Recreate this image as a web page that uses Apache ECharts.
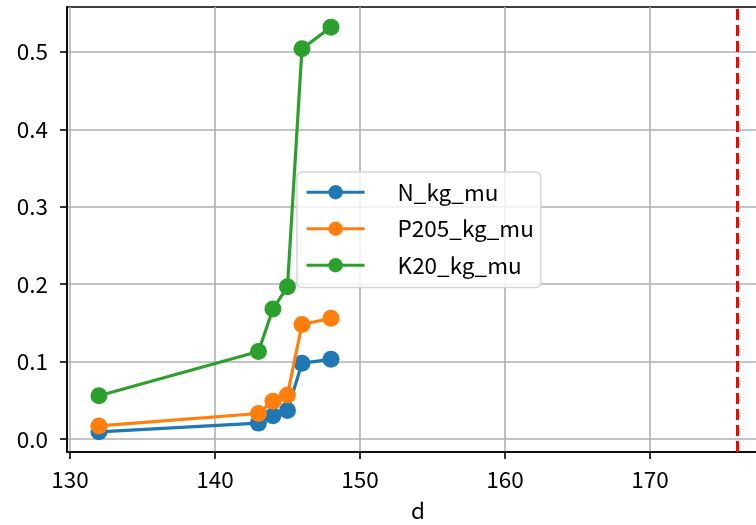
<!DOCTYPE html>
<html>
<head>
<meta charset="utf-8">
<script src="https://cdn.jsdelivr.net/npm/echarts@6/dist/echarts.min.js"></script>
<style>html,body{margin:0;padding:0;background:#fff}#c{width:756px;height:525px}</style>
</head>
<body>
<div id="c"></div>
<script>
const days = [132, 143, 144, 145, 146, 148];
const nKg = [0.0094, 0.0206, 0.030, 0.037, 0.098, 0.103];
const p2o5Kg = [0.017, 0.033, 0.049, 0.057, 0.148, 0.156];
const k2oKg = [0.056, 0.113, 0.168, 0.1966, 0.504, 0.532];
const seriesNames = ['N_kg_mu', 'P205_kg_mu', 'K20_kg_mu'];
const seriesColors = ['#1f77b4', '#ff7f0e', '#2ca02c'];
const vlineX = 176;
const xTicks = [130, 140, 150, 160, 170];
const yTicks = [0.0, 0.1, 0.2, 0.3, 0.4, 0.5];
const xName = 'd';

const FONT = '"Noto Sans CJK JP", "DejaVu Sans", sans-serif';
const FS = 22.5;
const values = [nKg, p2o5Kg, k2oKg];

const series = values.map((vals, i) => ({
  name: seriesNames[i],
  type: 'line',
  data: days.map((d, j) => [d, vals[j]]),
  symbol: 'circle',
  symbolSize: 17,
  showSymbol: true,
  color: seriesColors[i],
  lineStyle: { width: 3.2, color: seriesColors[i] },
  itemStyle: { color: seriesColors[i] },
  z: 3 + i,
  emphasis: { disabled: true }
}));
series.push({
  type: 'line',
  data: [],
  silent: true,
  markLine: {
    silent: true,
    symbol: ['none', 'none'],
    label: { show: false },
    lineStyle: { color: '#ff0000', width: 3, type: [11, 5] },
    data: [{ xAxis: vlineX }]
  }
});

const chart = echarts.init(document.getElementById('c'), null, { renderer: 'canvas' });
chart.setOption({
  animation: false,
  backgroundColor: '#ffffff',
  textStyle: { fontFamily: FONT },
  grid: {
    left: 67, top: 7, right: -13, bottom: 73,
    outerBoundsMode: 'none',
    containLabel: false,
    show: true, borderColor: '#000', borderWidth: 1.6, backgroundColor: 'transparent'
  },
  legend: {
    data: seriesNames,
    left: 297, top: 172,
    orient: 'vertical',
    itemWidth: 58, itemHeight: 18, itemGap: 14,
    padding: [9, 7, 11, 8],
    backgroundColor: 'rgba(255,255,255,0.8)',
    borderColor: '#d6d6d6', borderWidth: 1.5, borderRadius: 5,
    lineStyle: { width: 3.2 },
    textStyle: { fontSize: FS, color: '#000', fontFamily: FONT, padding: [0, 0, 0, 28], lineHeight: 21 },
    selectedMode: false
  },
  xAxis: {
    type: 'value',
    min: 129.8, max: 178.2,
    name: xName, nameLocation: 'middle', nameGap: 47,
    nameTextStyle: { fontSize: FS, color: '#000', fontFamily: FONT },
    axisLine: { show: true, onZero: false, lineStyle: { color: '#000', width: 1.6 } },
    axisTick: { show: true, length: 7, inside: false, customValues: xTicks, lineStyle: { color: '#000', width: 1.6 } },
    axisLabel: { customValues: xTicks, fontSize: FS, color: '#000', margin: 16, fontFamily: FONT },
    splitLine: { show: true, lineStyle: { color: '#b0b0b0', width: 1.6 } }
  },
  yAxis: {
    type: 'value',
    min: -0.0167, max: 0.558,
    axisLine: { show: true, onZero: false, lineStyle: { color: '#000', width: 1.6 } },
    axisTick: { show: true, length: 7, inside: false, customValues: yTicks, lineStyle: { color: '#000', width: 1.6 } },
    axisLabel: { customValues: yTicks, fontSize: FS, color: '#000', margin: 19, fontFamily: FONT,
      formatter: v => v.toFixed(1) },
    splitLine: { show: true, lineStyle: { color: '#b0b0b0', width: 1.6 } }
  },
  series: series
});
</script>
</body>
</html>
